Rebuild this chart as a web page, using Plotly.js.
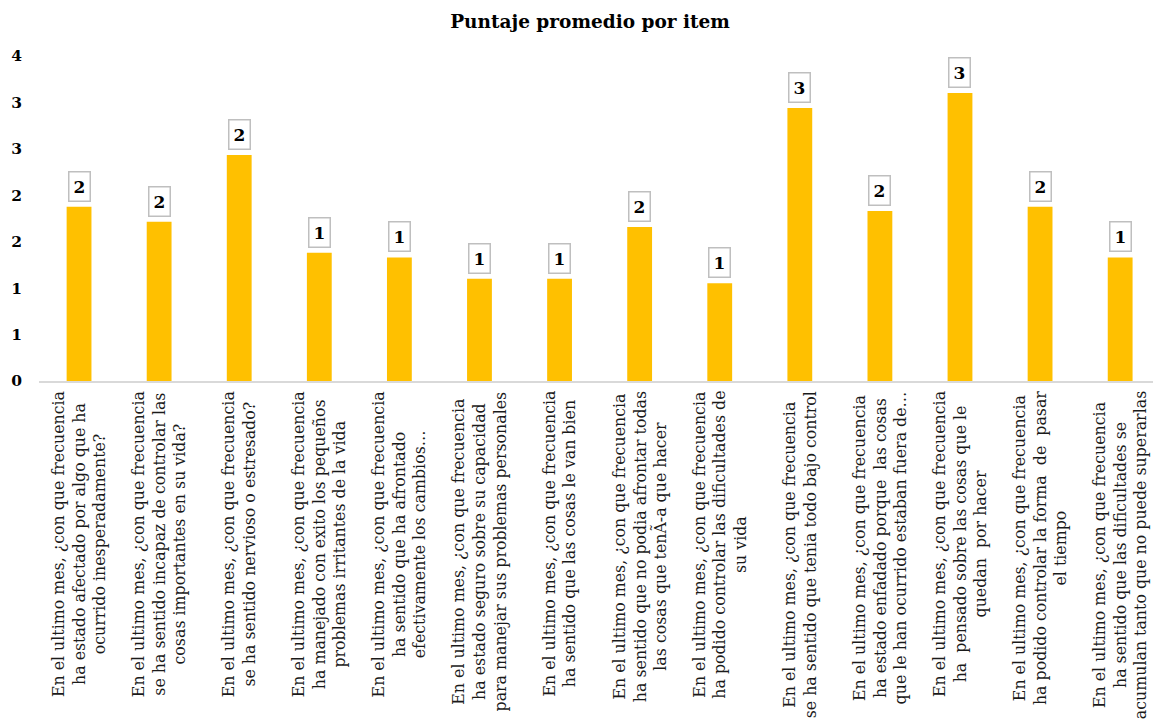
<!DOCTYPE html>
<html>
<head>
<meta charset="utf-8">
<script src="https://cdn.plot.ly/plotly-3.0.1.min.js"></script>
<style>html,body{margin:0;padding:0;background:#fff;}#chart{width:1153px;height:719px;}</style>
</head>
<body>
<div id="chart"></div>
<script>
// Category labels (lines joined with <br>)
const categories = [
  "En el ultimo mes, ¿con que frecuencia<br>ha estado afectado por algo que ha<br>ocurrido inesperadamente?",
  "En el ultimo mes, ¿con que frecuencia<br>se ha sentido incapaz de controlar las<br>cosas importantes en su vida?",
  "En el ultimo mes, ¿con que frecuencia<br>se ha sentido nervioso o estresado?",
  "En el ultimo mes, ¿con que frecuencia<br>ha manejado con exito los pequeños<br>problemas irritantes de la vida",
  "En el ultimo mes, ¿con que frecuencia<br>ha sentido que ha afrontado<br>efectivamente los cambios…",
  "En el ultimo mes, ¿con que frecuencia<br>ha estado seguro sobre su capacidad<br>para manejar sus problemas personales",
  "En el ultimo mes, ¿con que frecuencia<br>ha sentido que las cosas le van bien",
  "En el ultimo mes, ¿con que frecuencia<br>ha sentido que no podia afrontar todas<br>las cosas que tenÃ-a que hacer",
  "En el ultimo mes, ¿con que frecuencia<br>ha podido controlar las dificultades de<br>su vida",
  "En el ultimo mes, ¿con que frecuencia<br>se ha sentido que tenia todo bajo control",
  "En el ultimo mes, ¿con que frecuencia<br>ha estado enfadado porque\u00a0 las cosas<br>que le han ocurrido estaban fuera de…",
  "En el ultimo mes, ¿con que frecuencia<br>ha\u00a0 pensado sobre las cosas que le<br>quedan\u00a0 por hacer",
  "En el ultimo mes, ¿con que frecuencia<br>ha podido controlar la forma\u00a0 de\u00a0 pasar<br>el tiempo",
  "En el ultimo mes, ¿con que frecuencia<br>ha sentido que las dificultades se<br>acumulan tanto que no puede superarlas"
];
// Average score per item
const values = [1.876, 1.715, 2.435, 1.382, 1.331, 1.102, 1.102, 1.658, 1.052, 2.941, 1.830, 3.102, 1.876, 1.331];
// Data labels as shown (rounded to integers)
const dataLabels = ["2", "2", "2", "1", "1", "1", "1", "2", "1", "3", "2", "3", "2", "1"];
// Y axis ticks (labels shown with 0 decimals)
const yTickVals = [0, 0.5, 1, 1.5, 2, 2.5, 3, 3.5];
const yTickText = ["0", "1", "1", "2", "2", "3", "3", "4"];

const serif = "DejaVu Serif, serif";

const trace = {
  type: 'bar',
  x: categories,
  y: values,
  marker: {color: '#FFC000'},
  hoverinfo: 'y'
};

const annotations = [];
categories.forEach((c, i) => {
  annotations.push({
    xref: 'x', yref: 'paper', x: c, y: 0,
    xanchor: 'center', yanchor: 'top', yshift: -8,
    text: c, textangle: -90, align: 'center', showarrow: false,
    font: {family: serif, size: 15.8, color: '#1a1a1a'}
  });
  annotations.push({
    xref: 'x', yref: 'y', x: c, y: values[i],
    xanchor: 'center', yanchor: 'bottom', yshift: 5,
    text: '<b>' + dataLabels[i] + '</b>', showarrow: false,
    width: 14, height: 22, borderpad: 3,
    bgcolor: '#ffffff', bordercolor: '#bfbfbf', borderwidth: 1.5,
    font: {family: serif, size: 17, color: '#000000'}
  });
});

const layout = {
  width: 1153, height: 719,
  margin: {l: 39, r: 0, t: 56, b: 337.5, pad: 0},
  paper_bgcolor: '#ffffff', plot_bgcolor: '#ffffff',
  showlegend: false,
  bargap: 0.69,
  font: {family: serif},
  title: {
    text: '<b>Puntaje promedio por item</b>',
    font: {family: serif, size: 18.5, color: '#000000'},
    xref: 'container', x: 590 / 1153, xanchor: 'center',
    yref: 'container', y: 1 - 22 / 719, yanchor: 'middle'
  },
  xaxis: {
    type: 'category',
    range: [-0.5, 13.41],
    showticklabels: false, ticks: '',
    showline: true, linecolor: '#d9d9d9', linewidth: 1.5,
    showgrid: false, zeroline: false, fixedrange: true
  },
  yaxis: {
    range: [0, 3.5],
    tickvals: yTickVals, ticktext: yTickText,
    tickfont: {family: serif, size: 15.5, color: '#000000', weight: 'bold'},
    ticks: '', ticklabelstandoff: 16,
    showline: false, showgrid: false, zeroline: false, fixedrange: true
  },
  annotations: annotations
};

Plotly.newPlot('chart', [trace], layout, {displayModeBar: false, staticPlot: true});
</script>
</body>
</html>
